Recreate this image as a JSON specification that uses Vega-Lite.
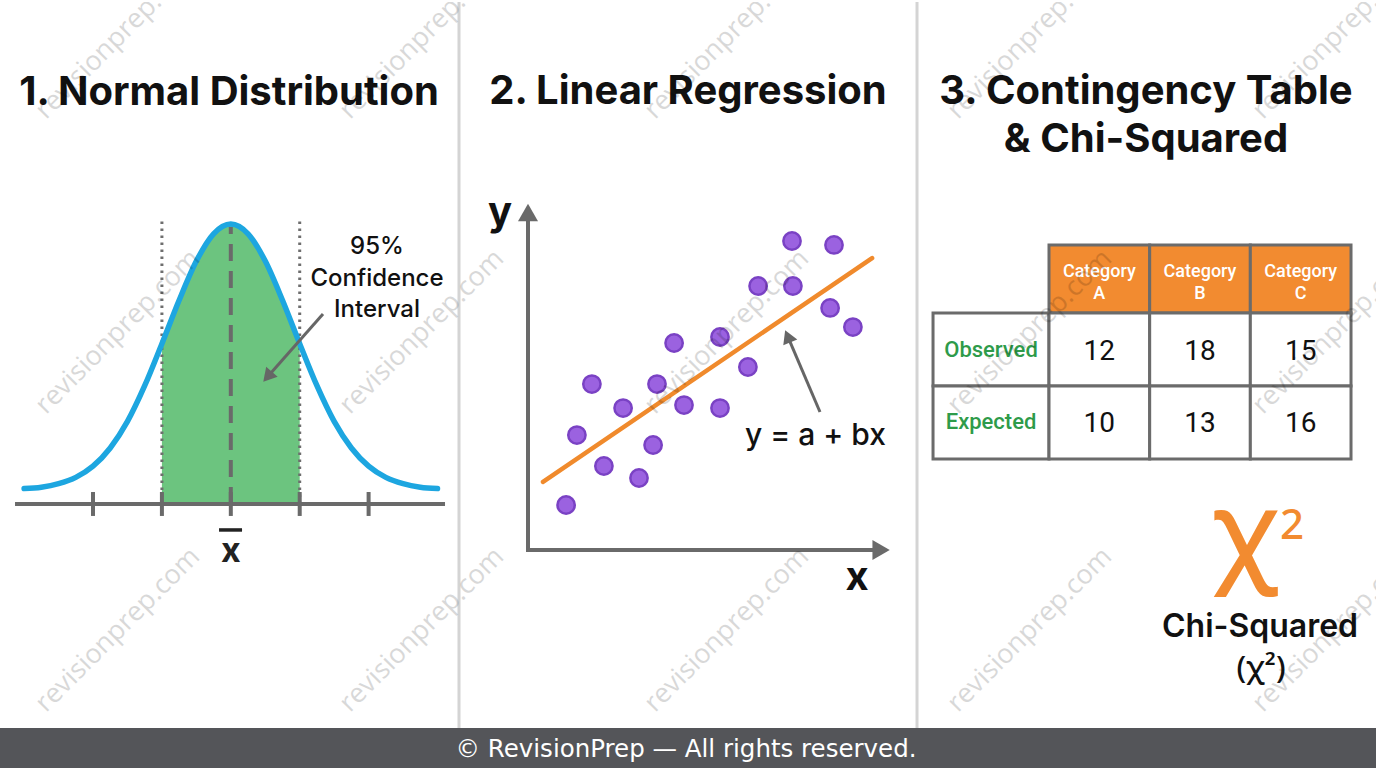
{
  "$schema": "https://vega.github.io/schema/vega-lite/v6.json",
  "background": "white",
  "padding": 0,
  "spacing": 0,
  "bounds": "flush",
  "config": {"view": {"stroke": null}, "concat": {"spacing": 0}},
  "datasets": {
    "p1_curve": [
      {"x": -3, "y": 0.022}, {"x": -2.75, "y": 0.024}, {"x": -2.5, "y": 0.029}, {"x": -2.25, "y": 0.038},
      {"x": -2, "y": 0.054}, {"x": -1.75, "y": 0.080}, {"x": -1.5, "y": 0.118}, {"x": -1.25, "y": 0.169},
      {"x": -1, "y": 0.229}, {"x": -0.75, "y": 0.291}, {"x": -0.5, "y": 0.347}, {"x": -0.25, "y": 0.386},
      {"x": 0, "y": 0.400},
      {"x": 0.25, "y": 0.386}, {"x": 0.5, "y": 0.347}, {"x": 0.75, "y": 0.291}, {"x": 1, "y": 0.229},
      {"x": 1.25, "y": 0.169}, {"x": 1.5, "y": 0.118}, {"x": 1.75, "y": 0.080}, {"x": 2, "y": 0.054},
      {"x": 2.25, "y": 0.038}, {"x": 2.5, "y": 0.029}, {"x": 2.75, "y": 0.024}, {"x": 3, "y": 0.022}
    ],
    "p1_ci": [{"x": -1, "y": 0, "y2": 0.4057}, {"x": 1, "y": 0, "y2": 0.4057}],
    "p1_mean": [{"x": 0, "y": 0, "y2": 0.3957}],
    "p1_axis": [{"x": -3.132, "x2": 3.109, "y": 0}],
    "p1_ticks": [
      {"x": -2, "y": -0.0171, "y2": 0.0171}, {"x": -1, "y": -0.0171, "y2": 0.0171},
      {"x": 0, "y": -0.0171, "y2": 0.0171}, {"x": 1, "y": -0.0171, "y2": 0.0171},
      {"x": 2, "y": -0.0171, "y2": 0.0171}
    ],
    "p1_arrow": [{"x": 1.338, "y": 0.2714, "x2": 0.534, "y2": 0.1817}],
    "p1_arrowhead": [{"x": 0.534, "y": 0.1817}],
    "p1_bar": [{"x": -0.171, "x2": 0.163, "y": -0.0371}],
    "p1_title": [{"x": -0.026, "y": 0.570, "label": "1. Normal Distribution"}],
    "p1_note": [
      {"x": 2.122, "y": 0.3571, "label": "95%"},
      {"x": 2.122, "y": 0.3114, "label": "Confidence"},
      {"x": 2.122, "y": 0.2671, "label": "Interval"}
    ],
    "p1_xlab": [{"x": 0, "y": -0.0829, "label": "x"}],
    "p1_sep": [{"x": 3.312, "y": -0.32, "y2": 0.7171}],
    "p1_footer": [{"x": -3.35, "x2": 3.312, "y": -0.38, "y2": -0.32}],
    "p1_wm": [
      {"x": -1.637, "y": 0.6671, "label": "revisionprep.com"},
      {"x": -1.637, "y": 0.2457, "label": "revisionprep.com"},
      {"x": -1.637, "y": -0.18, "label": "revisionprep.com"},
      {"x": 2.775, "y": 0.6671, "label": "revisionprep.com"},
      {"x": 2.775, "y": 0.2457, "label": "revisionprep.com"},
      {"x": 2.775, "y": -0.18, "label": "revisionprep.com"}
    ],
    "p2_axes": [
      {"x": 0, "y": 0, "x2": 0, "y2": 11.1},
      {"x": 0, "y": 0, "x2": 11.57, "y2": 0}
    ],
    "p2_uphead": [{"x": 0, "y": 11.25}],
    "p2_righthead": [{"x": 11.77, "y": 0}],
    "p2_fit": [{"x": 0.5, "y": 2.27, "x2": 11.47, "y2": 9.73}],
    "p2_points": [
      {"x": 1.27, "y": 1.50}, {"x": 1.63, "y": 3.83}, {"x": 2.13, "y": 5.53}, {"x": 2.53, "y": 2.80},
      {"x": 3.17, "y": 4.73}, {"x": 3.70, "y": 2.40}, {"x": 4.17, "y": 3.50}, {"x": 4.30, "y": 5.53},
      {"x": 4.87, "y": 6.90}, {"x": 5.20, "y": 4.83}, {"x": 6.40, "y": 7.10}, {"x": 6.40, "y": 4.73},
      {"x": 7.33, "y": 6.10}, {"x": 7.67, "y": 8.80}, {"x": 8.80, "y": 10.30}, {"x": 8.83, "y": 8.80},
      {"x": 10.07, "y": 8.07}, {"x": 10.20, "y": 10.17}, {"x": 10.83, "y": 7.43}
    ],
    "p2_axlab": [{"x": -0.933, "y": 10.833, "label": "y"}, {"x": 10.967, "y": -1.333, "label": "x"}],
    "p2_eq": [{"x": 9.583, "y": 3.5, "label": "y = a + bx"}],
    "p2_arrow": [{"x": 9.733, "y": 4.6, "x2": 8.657, "y2": 7.123}],
    "p2_arrowhead": [{"x": 8.657, "y": 7.123}],
    "p2_title": [{"x": 5.333, "y": 14.867, "label": "2. Linear Regression"}],
    "p2_sep": [{"x": 12.967, "y": -5.9333, "y2": 18.2667}],
    "p2_footer": [{"x": -2.3, "x2": 13.0, "y": -7.3333, "y2": -5.9333}],
    "p2_footer_text": [{"x": 5.267, "y": -6.9, "label": "© RevisionPrep — All rights reserved."}],
    "p2_wm": [
      {"x": -3.533, "y": 17.1, "label": "revisionprep.com"},
      {"x": -3.533, "y": 7.267, "label": "revisionprep.com"},
      {"x": -3.533, "y": -2.667, "label": "revisionprep.com"},
      {"x": 6.633, "y": 17.1, "label": "revisionprep.com"},
      {"x": 6.633, "y": 7.267, "label": "revisionprep.com"},
      {"x": 6.633, "y": -2.667, "label": "revisionprep.com"}
    ],
    "p3_head": [
      {"x": 0, "x2": 1, "y": -0.9315, "y2": 0},
      {"x": 1, "x2": 2, "y": -0.9315, "y2": 0},
      {"x": 2, "x2": 3, "y": -0.9315, "y2": 0}
    ],
    "p3_cells": [
      {"x": -1.152, "x2": 0, "y": 0, "y2": 1}, {"x": 0, "x2": 1, "y": 0, "y2": 1},
      {"x": 1, "x2": 2, "y": 0, "y2": 1}, {"x": 2, "x2": 3, "y": 0, "y2": 1},
      {"x": -1.152, "x2": 0, "y": 1, "y2": 2}, {"x": 0, "x2": 1, "y": 1, "y2": 2},
      {"x": 1, "x2": 2, "y": 1, "y2": 2}, {"x": 2, "x2": 3, "y": 1, "y2": 2}
    ],
    "p3_headlab": [
      {"x": 0.5, "y": -0.4932, "label": "Category"}, {"x": 0.5, "y": -0.1918, "label": "A"},
      {"x": 1.5, "y": -0.4932, "label": "Category"}, {"x": 1.5, "y": -0.1918, "label": "B"},
      {"x": 2.5, "y": -0.4932, "label": "Category"}, {"x": 2.5, "y": -0.1918, "label": "C"}
    ],
    "p3_rowlab": [
      {"x": -0.576, "y": 0.6027, "label": "Observed"},
      {"x": -0.576, "y": 1.589, "label": "Expected"}
    ],
    "p3_vals": [
      {"x": 0.5, "y": 0.644, "label": "12"}, {"x": 1.5, "y": 0.644, "label": "18"}, {"x": 2.5, "y": 0.644, "label": "15"},
      {"x": 0.5, "y": 1.630, "label": "10"}, {"x": 1.5, "y": 1.630, "label": "13"}, {"x": 2.5, "y": 1.630, "label": "16"}
    ],
    "p3_title": [
      {"x": 0.9635, "y": -2.863, "label": "3. Contingency Table"},
      {"x": 0.9635, "y": -2.205, "label": "& Chi-Squared"}
    ],
    "p3_chi": [{"x": 1.947, "y": 3.521, "label": "χ"}],
    "p3_sup": [{"x": 2.414, "y": 3.096, "label": "2"}],
    "p3_cap": [{"x": 2.096, "y": 4.438, "label": "Chi-Squared"}],
    "p3_cap2": [{"x": 2.106, "y": 5.0, "label": "(χ²)"}],
    "p3_footer": [{"x": -1.3013, "x2": 3.2482, "y": 5.6849, "y2": 6.2603}],
    "p3_wm": [
      {"x": -0.1887, "y": -3.781, "label": "revisionprep.com"},
      {"x": -0.1887, "y": 0.2603, "label": "revisionprep.com"},
      {"x": -0.1887, "y": 4.342, "label": "revisionprep.com"},
      {"x": 2.841, "y": -3.781, "label": "revisionprep.com"},
      {"x": 2.841, "y": 0.2603, "label": "revisionprep.com"},
      {"x": 2.841, "y": 4.342, "label": "revisionprep.com"}
    ]
  },
  "hconcat": [
    {
      "width": 459,
      "height": 768,
      "encoding": {
        "x": {"field": "x", "type": "quantitative", "scale": {"domain": [-3.35, 3.312], "nice": false, "zero": false}, "axis": null},
        "y": {"field": "y", "type": "quantitative", "scale": {"domain": [-0.38, 0.7171], "nice": false, "zero": false}, "axis": null}
      },
      "layer": [
        {
          "data": {"name": "p1_curve"},
          "transform": [{"filter": "datum.x >= -1 && datum.x <= 1"}],
          "mark": {"type": "area", "color": "#6cc47f", "interpolate": "monotone"},
          "encoding": {"y2": {"datum": 0}}
        },
        {
          "data": {"name": "p1_ci"},
          "mark": {"type": "rule", "color": "#6e6e6e", "strokeWidth": 3, "strokeDash": [2.5, 4.5]},
          "encoding": {"y2": {"field": "y2"}}
        },
        {
          "data": {"name": "p1_mean"},
          "mark": {"type": "rule", "color": "#6a6a6a", "strokeWidth": 4, "strokeDash": [17, 10]},
          "encoding": {"y2": {"field": "y2"}}
        },
        {
          "data": {"name": "p1_curve"},
          "mark": {"type": "line", "color": "#1da6e0", "strokeWidth": 5.5, "interpolate": "monotone", "strokeCap": "round"}
        },
        {
          "data": {"name": "p1_axis"},
          "mark": {"type": "rule", "color": "#6a6a6a", "strokeWidth": 4},
          "encoding": {"x2": {"field": "x2"}}
        },
        {
          "data": {"name": "p1_ticks"},
          "mark": {"type": "rule", "color": "#6a6a6a", "strokeWidth": 4},
          "encoding": {"y2": {"field": "y2"}}
        },
        {
          "data": {"name": "p1_arrow"},
          "mark": {"type": "rule", "color": "#666666", "strokeWidth": 3},
          "encoding": {"x2": {"field": "x2"}, "y2": {"field": "y2"}}
        },
        {
          "data": {"name": "p1_arrowhead"},
          "mark": {"type": "point", "shape": "triangle-up", "angle": 221, "size": 230, "filled": true, "color": "#666666", "opacity": 1}
        },
        {
          "data": {"name": "p1_bar"},
          "mark": {"type": "rule", "color": "#222222", "strokeWidth": 3.5},
          "encoding": {"x2": {"field": "x2"}}
        },
        {
          "data": {"name": "p1_title"},
          "mark": {"type": "text", "font": "Inter", "fontSize": 40, "fontWeight": "bold", "color": "#111111", "align": "center", "baseline": "alphabetic"},
          "encoding": {"text": {"field": "label"}}
        },
        {
          "data": {"name": "p1_note"},
          "mark": {"type": "text", "font": "Inter", "fontSize": 24, "fontWeight": 500, "color": "#111111", "align": "center", "baseline": "alphabetic"},
          "encoding": {"text": {"field": "label"}}
        },
        {
          "data": {"name": "p1_xlab"},
          "mark": {"type": "text", "font": "Inter", "fontSize": 34, "fontWeight": "bold", "color": "#222222", "align": "center", "baseline": "alphabetic"},
          "encoding": {"text": {"field": "label"}}
        },
        {
          "data": {"name": "p1_sep"},
          "mark": {"type": "rule", "color": "#d4d4d4", "strokeWidth": 3},
          "encoding": {"y2": {"field": "y2"}}
        },
        {
          "data": {"name": "p1_wm"},
          "mark": {"type": "text", "font": "Open Sans", "fontSize": 27, "angle": -45, "color": "#000000", "opacity": 0.15, "align": "center", "baseline": "middle", "clip": true},
          "encoding": {"text": {"field": "label"}}
        },
        {
          "data": {"name": "p1_footer"},
          "mark": {"type": "rect", "fill": "#545559"},
          "encoding": {"x2": {"field": "x2"}, "y2": {"field": "y2"}}
        }
      ]
    },
    {
      "width": 459,
      "height": 768,
      "encoding": {
        "x": {"field": "x", "type": "quantitative", "scale": {"domain": [-2.3, 13.0], "nice": false, "zero": false}, "axis": null},
        "y": {"field": "y", "type": "quantitative", "scale": {"domain": [-7.3333, 18.2667], "nice": false, "zero": false}, "axis": null}
      },
      "layer": [
        {
          "data": {"name": "p2_axes"},
          "mark": {"type": "rule", "color": "#6a6a6a", "strokeWidth": 4, "strokeCap": "square"},
          "encoding": {"x2": {"field": "x2"}, "y2": {"field": "y2"}}
        },
        {
          "data": {"name": "p2_uphead"},
          "mark": {"type": "point", "shape": "triangle-up", "size": 400, "filled": true, "color": "#6a6a6a", "opacity": 1}
        },
        {
          "data": {"name": "p2_righthead"},
          "mark": {"type": "point", "shape": "triangle-right", "size": 400, "filled": true, "color": "#6a6a6a", "opacity": 1}
        },
        {
          "data": {"name": "p2_fit"},
          "mark": {"type": "rule", "color": "#f08a2c", "strokeWidth": 4.5, "strokeCap": "round"},
          "encoding": {"x2": {"field": "x2"}, "y2": {"field": "y2"}}
        },
        {
          "data": {"name": "p2_points"},
          "mark": {"type": "point", "shape": "circle", "size": 300, "filled": true, "fill": "#9b62e0", "stroke": "#7a42c4", "strokeWidth": 2.5, "opacity": 1}
        },
        {
          "data": {"name": "p2_arrow"},
          "mark": {"type": "rule", "color": "#666666", "strokeWidth": 3},
          "encoding": {"x2": {"field": "x2"}, "y2": {"field": "y2"}}
        },
        {
          "data": {"name": "p2_arrowhead"},
          "mark": {"type": "point", "shape": "triangle-up", "angle": 337, "size": 230, "filled": true, "color": "#666666", "opacity": 1}
        },
        {
          "data": {"name": "p2_axlab"},
          "mark": {"type": "text", "font": "Inter", "fontSize": 40, "fontWeight": "bold", "color": "#111111", "align": "center", "baseline": "alphabetic"},
          "encoding": {"text": {"field": "label"}}
        },
        {
          "data": {"name": "p2_eq"},
          "mark": {"type": "text", "font": "Inter", "fontSize": 30, "fontWeight": 500, "color": "#111111", "align": "center", "baseline": "alphabetic"},
          "encoding": {"text": {"field": "label"}}
        },
        {
          "data": {"name": "p2_title"},
          "mark": {"type": "text", "font": "Inter", "fontSize": 40, "fontWeight": "bold", "color": "#111111", "align": "center", "baseline": "alphabetic"},
          "encoding": {"text": {"field": "label"}}
        },
        {
          "data": {"name": "p2_sep"},
          "mark": {"type": "rule", "color": "#d4d4d4", "strokeWidth": 3},
          "encoding": {"y2": {"field": "y2"}}
        },
        {
          "data": {"name": "p2_wm"},
          "mark": {"type": "text", "font": "Open Sans", "fontSize": 27, "angle": -45, "color": "#000000", "opacity": 0.15, "align": "center", "baseline": "middle", "clip": true},
          "encoding": {"text": {"field": "label"}}
        },
        {
          "data": {"name": "p2_footer"},
          "mark": {"type": "rect", "fill": "#545559"},
          "encoding": {"x2": {"field": "x2"}, "y2": {"field": "y2"}}
        },
        {
          "data": {"name": "p2_footer_text"},
          "mark": {"type": "text", "font": "DejaVu Sans", "fontSize": 24.5, "color": "#ffffff", "align": "center", "baseline": "alphabetic"},
          "encoding": {"text": {"field": "label"}}
        }
      ]
    },
    {
      "width": 458,
      "height": 768,
      "encoding": {
        "x": {"field": "x", "type": "quantitative", "scale": {"domain": [-1.3013, 3.2482], "nice": false, "zero": false}, "axis": null},
        "y": {"field": "y", "type": "quantitative", "scale": {"domain": [-4.2603, 6.2603], "nice": false, "zero": false, "reverse": true}, "axis": null}
      },
      "layer": [
        {
          "data": {"name": "p3_head"},
          "mark": {"type": "rect", "fill": "#f28b30", "stroke": "#6b6b6b", "strokeWidth": 3},
          "encoding": {"x2": {"field": "x2"}, "y2": {"field": "y2"}}
        },
        {
          "data": {"name": "p3_cells"},
          "mark": {"type": "rect", "fill": "#ffffff", "stroke": "#6b6b6b", "strokeWidth": 3},
          "encoding": {"x2": {"field": "x2"}, "y2": {"field": "y2"}}
        },
        {
          "data": {"name": "p3_headlab"},
          "mark": {"type": "text", "font": "Roboto", "fontSize": 18, "fontWeight": 500, "color": "#ffffff", "align": "center", "baseline": "alphabetic"},
          "encoding": {"text": {"field": "label"}}
        },
        {
          "data": {"name": "p3_rowlab"},
          "mark": {"type": "text", "font": "Roboto", "fontSize": 22, "fontWeight": 500, "color": "#2e9b4a", "align": "center", "baseline": "alphabetic"},
          "encoding": {"text": {"field": "label"}}
        },
        {
          "data": {"name": "p3_vals"},
          "mark": {"type": "text", "font": "Roboto", "fontSize": 28, "color": "#111111", "align": "center", "baseline": "alphabetic"},
          "encoding": {"text": {"field": "label"}}
        },
        {
          "data": {"name": "p3_title"},
          "mark": {"type": "text", "font": "Inter", "fontSize": 40, "fontWeight": "bold", "color": "#111111", "align": "center", "baseline": "alphabetic"},
          "encoding": {"text": {"field": "label"}}
        },
        {
          "data": {"name": "p3_chi"},
          "mark": {"type": "text", "font": "Noto Sans", "fontSize": 110, "fontWeight": 500, "color": "#f28b30", "align": "center", "baseline": "alphabetic"},
          "encoding": {"text": {"field": "label"}}
        },
        {
          "data": {"name": "p3_sup"},
          "mark": {"type": "text", "font": "Noto Sans", "fontSize": 42, "fontWeight": 500, "color": "#f28b30", "align": "center", "baseline": "alphabetic"},
          "encoding": {"text": {"field": "label"}}
        },
        {
          "data": {"name": "p3_cap"},
          "mark": {"type": "text", "font": "Inter", "fontSize": 32, "fontWeight": 600, "color": "#111111", "align": "center", "baseline": "alphabetic"},
          "encoding": {"text": {"field": "label"}}
        },
        {
          "data": {"name": "p3_cap2"},
          "mark": {"type": "text", "font": "Noto Sans", "fontSize": 31, "fontWeight": 500, "color": "#111111", "align": "center", "baseline": "alphabetic"},
          "encoding": {"text": {"field": "label"}}
        },
        {
          "data": {"name": "p3_wm"},
          "mark": {"type": "text", "font": "Open Sans", "fontSize": 27, "angle": -45, "color": "#000000", "opacity": 0.15, "align": "center", "baseline": "middle", "clip": true},
          "encoding": {"text": {"field": "label"}}
        },
        {
          "data": {"name": "p3_footer"},
          "mark": {"type": "rect", "fill": "#545559"},
          "encoding": {"x2": {"field": "x2"}, "y2": {"field": "y2"}}
        }
      ]
    }
  ]
}
